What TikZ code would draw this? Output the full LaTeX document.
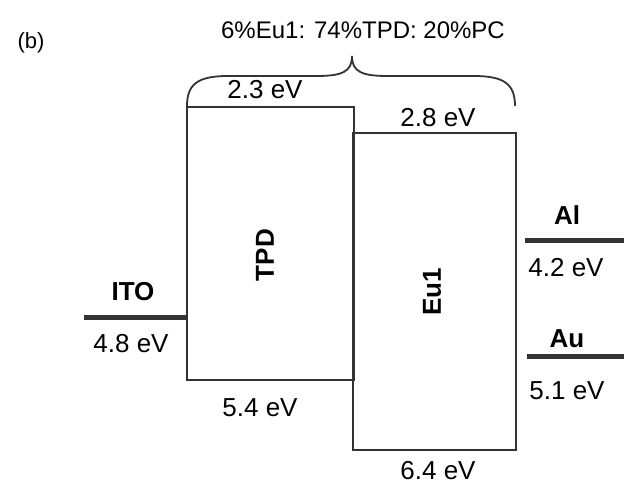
\documentclass[tikz,border=0pt]{standalone}
\usepackage{fontspec}
\setmainfont{Liberation Sans}
\begin{document}
\begin{tikzpicture}[x=1pt,y=-1pt,
  lbl/.style={font=\fontsize{26}{28}\selectfont, inner sep=0pt},
  blbl/.style={font=\fontsize{26}{28}\selectfont\bfseries, inner sep=0pt},
  band/.style={draw=black!80, line width=1.6pt, fill=none, rectangle, inner sep=0pt},
  level/.style={draw=black!80, line width=5pt},
  bracepath/.style={draw=black!80, line width=1.8pt}]
\useasboundingbox (0,0) rectangle (624,487);
% boxes
\node[band, minimum width=167pt, minimum height=273pt] (tpd) at (270.5,243.5) {};
\node[band, minimum width=163pt, minimum height=317pt] (eu) at (434.5,291.5) {};
\node[blbl, rotate=90] (tpdlbl) at (265,255) {TPD};
\node[blbl, rotate=90] (eulbl) at (432,292) {Eu1};
% band energies
\node[lbl] (e23) at (265,90) {2.3 eV};
\node[lbl] (e28) at (438,118) {2.8 eV};
\node[lbl] (e54) at (260,408) {5.4 eV};
\node[lbl] (e64) at (438,471) {6.4 eV};
% ITO
\coordinate (itoL) at (84,317);
\coordinate (itoR) at (186,317);
\draw[level] (itoL) -- (itoR);
\node[blbl] (ito) at (133,292) {ITO};
\node[lbl] (e48) at (131,344) {4.8 eV};
% Al
\coordinate (alL) at (525,240);
\coordinate (alR) at (624,240);
\draw[level] (alL) -- (alR);
\node[blbl] (al) at (567,215) {Al};
\node[lbl] (e42) at (566,268) {4.2 eV};
% Au
\coordinate (auL) at (527,356);
\coordinate (auR) at (624,356);
\draw[level] (auL) -- (auR);
\node[blbl] (au) at (567,339) {Au};
\node[lbl] (e51) at (567,391) {5.1 eV};
% brace
\coordinate (bl) at (187,106);
\coordinate (bt) at (352,56);
\coordinate (br) at (515,106);
\draw[bracepath] (bl) .. controls (187,84) and (198,76) .. (228,76) -- (316,76)
  .. controls (342,76) and (352,72) .. (bt)
  .. controls (352,72) and (362,76) .. (388,76) -- (474,76)
  .. controls (504,76) and (515,84) .. (br);
\node[font=\fontsize{24}{28}\selectfont, inner sep=0pt] (mix) at (363,30) {6\%Eu1: 74\%TPD: 20\%PC};
\node[font=\fontsize{22}{26}\selectfont, inner sep=0pt] (b) at (31,43) {(b)};
\end{tikzpicture}
\end{document}
